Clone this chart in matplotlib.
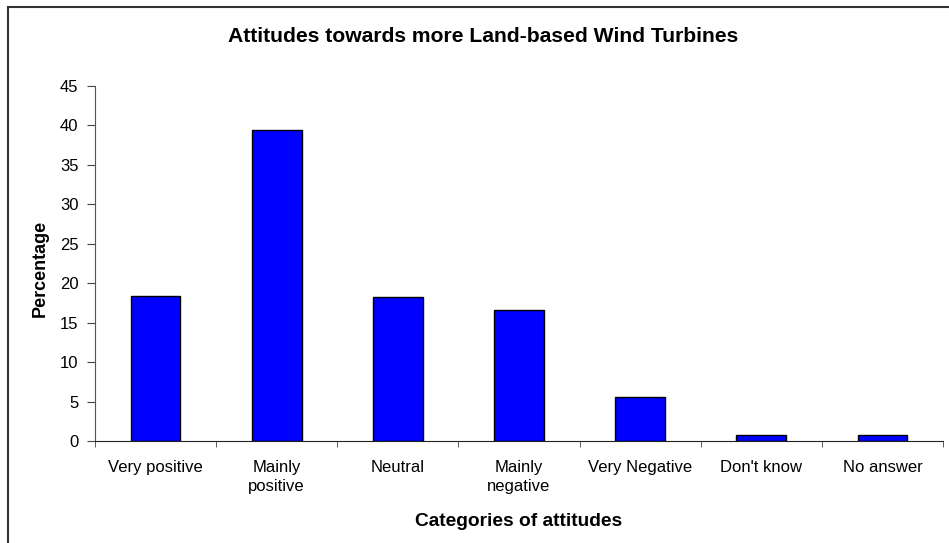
import matplotlib
matplotlib.use("Agg")
import matplotlib.pyplot as plt
from matplotlib.patches import Rectangle
import numpy as np

categories = ["Very positive", "Mainly\npositive", "Neutral", "Mainly\nnegative",
              "Very Negative", "Don't know", "No answer"]
values = [18.4, 39.4, 18.2, 16.6, 5.6, 0.7, 0.7]
yticks = [0, 5, 10, 15, 20, 25, 30, 35, 40, 45]

plt.rcParams['font.family'] = ['Liberation Sans', 'DejaVu Sans']

fig = plt.figure(figsize=(9.49, 5.43), dpi=100)
ax = fig.add_axes([95/949, (543-441)/543, 848/949, 355/543])

x = np.arange(len(categories))
ax.bar(x, values, width=0.41, color='#0000ff', edgecolor='black', linewidth=1.0, zorder=3)

ax.set_xlim(-0.5, len(categories) - 0.5)
ax.set_ylim(0, 45)
ax.set_yticks(yticks)
ax.set_yticklabels([str(t) for t in yticks], fontsize=12)
ax.set_xticks(x)
ax.set_xticklabels(categories, fontsize=12, linespacing=1.3)
ax.set_xticks(np.arange(len(categories) + 1) - 0.5, minor=True)
ax.tick_params(axis='x', which='major', length=0, pad=14)
ax.tick_params(axis='x', which='minor', length=4.5, direction='out', color='#444444')
ax.tick_params(axis='y', length=6, direction='out', color='#444444', pad=6)

for s in ['top', 'right']:
    ax.spines[s].set_visible(False)
ax.spines['left'].set_color('#555555')
ax.spines['bottom'].set_color('#222222')

fig.text(483/949, 1 - 37/543, "Attitudes towards more Land-based Wind Turbines",
         ha='center', va='center', fontsize=15.2, fontweight='bold')
fig.text(519/949, 1 - 522/543, "Categories of attitudes",
         ha='center', va='center', fontsize=13.8, fontweight='bold')
fig.text(40/949, 1 - 268/543, "Percentage", rotation=90,
         ha='center', va='center', fontsize=13, fontweight='bold')

fig.patches.append(Rectangle((8/949, -0.1), 1.1, 1 - 7/543 + 0.1, transform=fig.transFigure,
                             fill=False, edgecolor='#333333', linewidth=1.5))

fig.savefig("out.png", dpi=100)
